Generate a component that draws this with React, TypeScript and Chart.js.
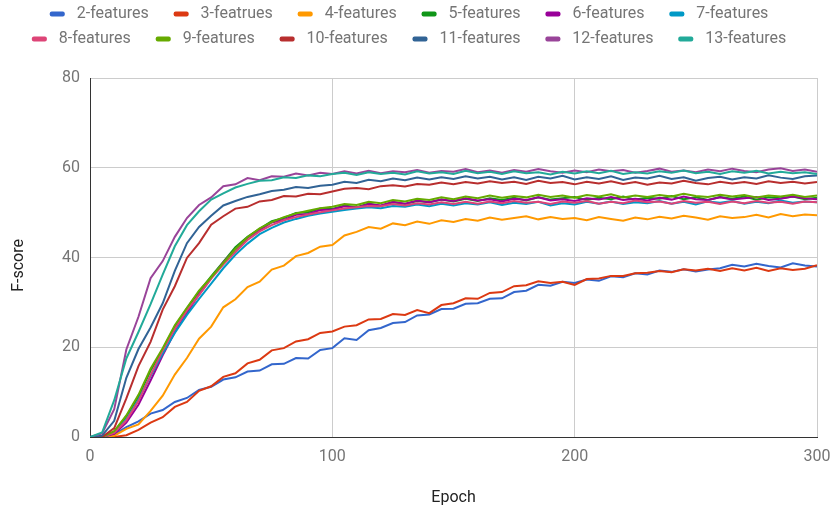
import React, { useEffect, useRef } from "react";
import { Chart, registerables } from "chart.js";

Chart.register(...registerables);

const EPOCHS = [
  0, 5, 10, 15, 20, 25, 30, 35, 40, 45,
  50, 55, 60, 65, 70, 75, 80, 85, 90, 95,
  100, 105, 110, 115, 120, 125, 130, 135, 140, 145,
  150, 155, 160, 165, 170, 175, 180, 185, 190, 195,
  200, 205, 210, 215, 220, 225, 230, 235, 240, 245,
  250, 255, 260, 265, 270, 275, 280, 285, 290, 295,
  300,
];

const SERIES_NAMES = [
  "2-features", "3-featrues", "4-features", "5-features", "6-features", "7-features",
  "8-features", "9-features", "10-features", "11-features", "12-features", "13-features",
];

const COLORS = [
  "#3366cc", "#dc3912", "#ff9900", "#109618", "#990099", "#0099c6",
  "#dd4477", "#66aa00", "#b82e2e", "#316395", "#994499", "#22aa99",
];

const F2 = [
  0, 0, 0.6, 2.2, 3.5, 5.2, 6.0, 7.8, 8.7, 10.5,
  11.2, 12.8, 13.3, 14.6, 14.8, 16.2, 16.3, 17.6, 17.5, 19.4,
  19.8, 22.0, 21.6, 23.8, 24.3, 25.4, 25.6, 27.1, 27.3, 28.5,
  28.6, 29.7, 29.8, 30.8, 30.9, 32.3, 32.6, 33.9, 33.7, 34.6,
  34.3, 35.1, 34.8, 35.8, 35.6, 36.5, 36.2, 37.1, 36.8, 37.4,
  36.9, 37.3, 37.6, 38.4, 38.0, 38.6, 38.1, 37.8, 38.7, 38.2,
  38.0,
];
const F3 = [
  0, 0, 0, 0.4, 1.6, 3.2, 4.4, 6.7, 7.8, 10.3,
  11.3, 13.4, 14.2, 16.4, 17.2, 19.3, 19.8, 21.3, 21.8, 23.2,
  23.5, 24.6, 24.9, 26.2, 26.3, 27.4, 27.2, 28.3, 27.6, 29.4,
  29.8, 30.9, 30.8, 32.1, 32.3, 33.6, 33.8, 34.7, 34.3, 34.6,
  33.9, 35.2, 35.3, 35.9, 35.9, 36.5, 36.6, 37.0, 36.7, 37.4,
  37.1, 37.5, 37.0, 37.6, 37.1, 37.7, 37.0, 37.6, 37.2, 37.5,
  38.3,
];
const F4 = [
  0, 0, 0.3, 1.8, 2.8, 5.8, 9.2, 13.9, 17.6, 21.9,
  24.6, 28.9, 30.7, 33.4, 34.6, 37.3, 38.2, 40.3, 41.0, 42.4,
  42.8, 44.9, 45.7, 46.8, 46.4, 47.6, 47.2, 48.0, 47.5, 48.3,
  47.9, 48.6, 48.2, 48.9, 48.4, 48.8, 49.2, 48.5, 49.0, 48.6,
  48.8, 48.3, 49.0, 48.6, 48.2, 48.9, 48.5, 49.1, 48.7, 49.3,
  48.9, 48.4, 49.2, 48.8, 49.0, 49.5, 48.9, 49.7, 49.2, 49.6,
  49.4,
];
const F5 = [
  0, 0, 1.2, 4.6, 9.0, 14.8, 19.5, 24.6, 28.7, 32.4,
  35.8, 39.0, 42.3, 44.6, 46.4, 48.1, 48.8, 49.9, 50.1, 50.9,
  50.8, 51.6, 51.2, 52.0, 51.5, 52.3, 51.9, 52.6, 52.3, 52.9,
  52.5, 53.1, 52.6, 53.2, 52.8, 53.3, 52.7, 53.4, 52.9, 53.2,
  53.5, 52.8, 53.3, 53.0, 53.6, 52.9, 53.3, 53.1, 53.7, 53.0,
  53.4, 52.8, 53.5, 53.1, 53.6, 52.9, 53.4, 53.2, 53.6, 53.0,
  53.3,
];
const F6 = [
  0, 0, 0.7, 3.2, 7.2, 12.6, 18.2, 23.4, 27.6, 31.8,
  35.4, 38.9, 41.8, 44.4, 46.1, 47.8, 48.4, 49.5, 49.7, 50.6,
  50.7, 51.4, 51.1, 51.9, 51.6, 52.4, 52.0, 52.7, 52.3, 52.9,
  52.6, 53.2, 52.7, 53.0, 52.5, 53.1, 52.8, 53.4, 52.7, 53.0,
  52.6, 53.2, 52.9, 53.5, 52.8, 53.1, 52.7, 53.3, 52.9, 53.6,
  53.0, 52.8, 53.4, 52.9, 53.2, 53.5, 52.8, 53.1, 53.6, 53.2,
  53.0,
];
const F7 = [
  0, 0, 1.0, 3.9, 8.3, 13.6, 18.6, 23.2, 27.2, 30.8,
  34.2, 37.6, 40.6, 43.1, 45.2, 46.6, 47.8, 48.6, 49.3, 49.8,
  50.2, 50.6, 50.9, 51.2, 51.0, 51.5, 51.3, 51.8, 51.4, 52.0,
  51.6, 52.1, 51.8, 52.3, 51.7, 52.2, 51.9, 52.4, 51.6, 52.1,
  51.8, 52.4, 52.0, 52.5, 51.9, 52.3, 52.1, 52.6, 52.0, 52.4,
  51.8, 52.5, 52.2, 52.6, 52.0, 52.4, 52.1, 52.7, 52.2, 52.5,
  52.3,
];
const F8 = [
  0, 0, 0.9, 3.7, 8.0, 13.8, 19.3, 24.1, 28.2, 31.6,
  35.3, 38.4, 41.2, 43.9, 45.8, 47.2, 48.3, 49.0, 49.6, 50.1,
  50.5, 50.9, 51.2, 51.5, 51.4, 51.9, 51.6, 52.1, 51.8, 52.3,
  51.9, 52.4, 52.0, 52.5, 52.1, 52.6, 52.2, 52.4, 51.9, 52.5,
  52.2, 52.6, 52.0, 52.4, 52.1, 52.7, 52.3, 52.5, 52.0, 52.6,
  52.2, 52.4, 51.9, 52.5, 52.1, 52.6, 52.2, 52.4, 52.0, 52.5,
  52.3,
];
const F9 = [
  0, 0, 1.3, 4.8, 9.4, 15.2, 19.8, 24.9, 28.8, 32.6,
  35.6, 38.8, 41.9, 44.5, 46.5, 47.9, 49.0, 49.8, 50.4, 51.0,
  51.3, 51.9, 51.7, 52.4, 52.1, 52.8, 52.5, 53.1, 52.8, 53.4,
  53.0, 53.6, 53.2, 53.8, 53.3, 53.7, 53.4, 54.0, 53.5, 53.8,
  53.3, 53.9, 53.6, 54.1, 53.4, 53.8, 53.5, 53.9, 53.6, 54.2,
  53.7, 53.5, 54.0, 53.6, 53.9, 53.4, 53.8, 53.6, 54.0, 53.5,
  53.8,
];
const F10 = [
  0, 0, 2.0, 8.6, 15.8, 21.2, 28.4, 33.6, 39.9, 43.2,
  47.3, 49.2, 50.9, 51.3, 52.5, 52.8, 53.7, 53.6, 54.2, 54.1,
  54.7, 55.3, 55.5, 55.2, 55.9, 56.1, 55.8, 56.4, 56.2, 56.7,
  56.3, 56.8, 56.5, 57.0, 56.6, 56.9, 56.4, 57.1, 56.6, 56.8,
  56.3, 56.9, 56.5, 57.0, 56.4, 56.8, 56.2, 56.7, 56.5, 57.1,
  56.6, 56.3, 56.9, 56.5, 56.8, 56.4, 57.0, 56.6, 56.9, 56.5,
  56.8,
];
const F11 = [
  0, 0.3, 3.6, 13.2, 19.6, 24.4, 29.8, 37.0, 43.2, 46.8,
  49.3, 51.6, 52.6, 53.5, 54.1, 54.8, 55.1, 55.7, 55.5, 56.0,
  56.2, 56.9, 56.6, 57.3, 57.0, 57.6, 57.2, 57.8, 57.4, 57.9,
  57.5, 58.1, 57.6, 58.0, 57.4, 57.9, 57.3, 58.0, 57.6, 58.2,
  57.4, 57.9, 57.5, 58.1, 57.3, 57.8, 57.6, 58.2, 57.5, 57.9,
  57.1, 57.7, 58.0, 57.4, 57.9, 57.6, 58.3, 57.8, 57.5, 58.1,
  58.3,
];
const F12 = [
  0, 0.8, 6.2, 19.5, 26.8, 35.4, 39.2, 44.6, 48.8, 51.7,
  53.4, 55.9, 56.3, 57.7, 57.2, 58.1, 58.0, 58.7, 58.3, 58.9,
  58.6, 59.2, 58.7, 59.3, 58.8, 59.2, 59.0, 59.5, 58.9, 59.3,
  59.1, 59.7, 59.0, 59.4, 58.9, 59.5, 59.1, 59.7, 59.2, 58.9,
  59.4, 59.0, 59.6, 59.2, 59.5, 58.9, 59.3, 59.8, 59.1, 59.4,
  59.0, 59.6, 59.2, 59.8, 59.3, 59.0, 59.6, 59.9, 59.3, 59.6,
  59.1,
];
const F13 = [
  0, 1.0, 8.2, 17.5, 23.4, 29.6, 36.2, 42.5, 47.2, 50.3,
  52.9, 54.3, 55.6, 56.4, 57.1, 57.2, 57.9, 57.7, 58.3, 58.1,
  58.6, 58.9, 58.4, 59.0, 58.6, 58.9, 58.5, 59.2, 58.7, 59.0,
  58.6, 59.3, 58.8, 59.1, 58.6, 59.2, 58.8, 59.0, 58.5, 59.1,
  58.7, 59.2, 58.8, 59.3, 58.6, 59.0, 58.7, 59.2, 58.9, 59.4,
  58.8, 59.1, 58.6, 59.2, 58.9, 59.3, 58.7, 59.1, 58.8, 59.0,
  58.6,
];

const SERIES_VALUES = [F2, F3, F4, F5, F6, F7, F8, F9, F10, F11, F12, F13];

const X_TICKS = [0, 100, 200, 300];
const Y_TICKS = [0, 20, 40, 60, 80];

const legendFitPlugin = {
  id: "legendFit",
  beforeUpdate(chart: any) {
    const lg = chart.legend;
    if (lg && !lg._patchedFit) {
      const orig = lg.fit;
      lg.fit = function () {
        orig.call(this);
        this.height = 81;
      };
      lg._patchedFit = true;
    }
  },
};

export default function App() {
  const ref = useRef<HTMLCanvasElement>(null);

  useEffect(() => {
    document.body.style.margin = "0";
    Chart.defaults.font.family = "Roboto";
    Chart.defaults.font.size = 16;
    const canvas = ref.current!;
    const datasets = SERIES_NAMES.map((name, i) => ({
      label: name,
      data: EPOCHS.map((e, j) => ({ x: e, y: SERIES_VALUES[i][j] })),
      borderColor: COLORS[i],
      backgroundColor: COLORS[i],
      borderWidth: 2,
      pointRadius: 0,
      pointHoverRadius: 0,
      tension: 0,
      fill: false,
      order: SERIES_NAMES.length - i,
    }));

    const chart = new Chart(canvas, {
      type: "line",
      data: { datasets },
      plugins: [legendFitPlugin],
      options: {
        responsive: false,
        animation: false,
        layout: { padding: { top: -3, left: 0, right: 0, bottom: 0 } },
        plugins: {
          tooltip: { enabled: false },
          legend: {
            position: "top",
            labels: {
              boxWidth: 15,
              boxHeight: 5,
              padding: 9,
              color: "#757575",
              font: { size: 16, family: "Roboto" },
              useBorderRadius: true,
              borderRadius: 2,
              generateLabels: (c: any) => {
                const items = (Chart.defaults.plugins.legend.labels as any).generateLabels(c);
                return items
                  .sort((a: any, b: any) => a.datasetIndex - b.datasetIndex)
                  .map((it: any) => ({
                    ...it,
                    text: " " + it.text + "    ",
                    lineWidth: 0,
                    fillStyle: COLORS[it.datasetIndex],
                  }));
              },
            },
          },
        },
        scales: {
          x: {
            type: "linear",
            min: 0,
            max: 300,
            afterBuildTicks: (s: any) => {
              s.ticks = X_TICKS.map((v) => ({ value: v }));
            },
            ticks: { color: "#757575", padding: 10, maxRotation: 0, font: { size: 16 } },
            grid: { color: "#cccccc", drawTicks: false },
            border: { color: "#333333", width: 1 },
            title: {
              display: true,
              text: "Epoch",
              color: "#222222",
              font: { size: 16 },
              padding: { top: 0, bottom: 4 },
            },
            afterFit: (s: any) => {
              s.height = 75;
              s.paddingLeft = 0;
              s.paddingRight = 17;
            },
          },
          y: {
            type: "linear",
            min: 0,
            max: 80,
            afterBuildTicks: (s: any) => {
              s.ticks = Y_TICKS.map((v) => ({ value: v }));
            },
            ticks: { color: "#757575", padding: 10, font: { size: 16 } },
            grid: { color: "#cccccc", drawTicks: false },
            border: { color: "#333333", width: 1 },
            title: {
              display: true,
              text: "F-score    ",
              color: "#222222",
              font: { size: 16 },
              padding: { top: 9, bottom: 0 },
            },
            afterFit: (s: any) => {
              s.width = 90;
            },
          },
        },
      },
    } as any);
    return () => chart.destroy();
  }, []);

  return (
    <div style={{ width: 834, height: 512 }}>
      <canvas ref={ref} width={834} height={512} />
    </div>
  );
}
